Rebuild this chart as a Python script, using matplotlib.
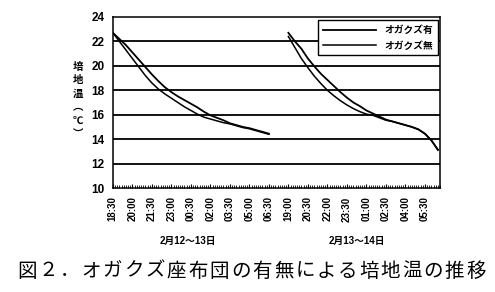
import matplotlib.pyplot as plt
import numpy as np

plt.rcParams['font.family'] = ['Liberation Sans', 'Noto Sans CJK JP', 'DejaVu Sans']

# Data: readings every 30 min, positions on a 10-minute category axis
tick_labels = ["18:30", "20:00", "21:30", "23:00", "00:30", "02:00", "03:30", "05:00", "06:30",
               "19:00", "20:30", "22:00", "23:30", "01:00", "02:30", "04:00", "05:30"]

night1_idx = np.arange(0, 73, 3)
night1_with = [22.7, 22.2, 21.7, 21.1, 20.5, 19.9, 19.3, 18.75, 18.25, 17.85, 17.5, 17.2, 16.9,
               16.6, 16.25, 15.95, 15.75, 15.55, 15.3, 15.15, 15.0, 14.9, 14.75, 14.6, 14.45]
night1_without = [22.7, 22.0, 21.3, 20.6, 19.9, 19.2, 18.6, 18.1, 17.7, 17.35, 17.0, 16.65, 16.35,
                  16.05, 15.8, 15.65, 15.5, 15.35, 15.25, 15.1, 14.95, 14.85, 14.7, 14.55, 14.4]

night2_idx = np.arange(81, 151, 3)
night2_with = [22.7, 22.0, 21.4, 20.6, 19.95, 19.35, 18.85, 18.35, 17.85, 17.4, 17.0, 16.7,
               16.35, 16.1, 15.85, 15.6, 15.45, 15.3, 15.15, 15.0, 14.8, 14.45, 13.9, 13.15]
night2_without = [22.4, 21.5, 20.6, 19.85, 19.15, 18.55, 18.0, 17.55, 17.15, 16.8, 16.5, 16.25,
                  16.05, 15.95, 15.75, 15.55, 15.45, 15.3, 15.15, 15.0, 14.8, 14.45, 13.9, 13.1]

ylabel_chars = ['培', '地', '温', '︵', '℃', '︶']
caption = '図２．オガクズ座布団の有無による培地温の推移'

fig = plt.figure(figsize=(4.95, 2.92), dpi=100)
ax = fig.add_axes([0.228, 0.356, 0.661, 0.586])

for y in range(12, 24, 2):
    ax.axhline(y, color='black', lw=1.3, zorder=1)

ax.plot(night1_idx, night1_with, color='black', lw=1.3, label='オガクズ有', zorder=3)
ax.plot(night1_idx, night1_without, color='black', lw=1.1, label='オガクズ無', zorder=3)
ax.plot(night2_idx, night2_with, color='black', lw=1.3, zorder=3)
ax.plot(night2_idx, night2_without, color='black', lw=1.1, zorder=3)

ax.set_xlim(0, 151)
ax.set_ylim(10, 24)
ax.set_yticks(range(10, 25, 2))
ax.set_yticklabels([str(v) for v in range(10, 25, 2)], fontsize=8.5, fontweight='bold')
ax.tick_params(axis='y', length=0, pad=6)

ax.set_xticks(np.arange(len(tick_labels)) * 9)
ax.set_xticklabels(tick_labels, rotation=90, fontsize=7, fontweight='bold')
ax.set_xticks(np.arange(0, 152), minor=True)
ax.tick_params(axis='x', which='major', direction='in', length=3, pad=6)
ax.tick_params(axis='x', which='minor', direction='in', length=2)

for s in ax.spines.values():
    s.set_linewidth(1.1)

ax.legend(loc='upper right', bbox_to_anchor=(1.008, 1.008), fancybox=False, edgecolor='black',
          framealpha=1, prop={'size': 7, 'weight': 'bold'}, handlelength=5.5,
          borderpad=0.5, labelspacing=0.55, handletextpad=0.8)

# stacked vertical y label
for i, ch in enumerate(ylabel_chars):
    fig.text(78 / 495, 1 - (67 + i * 13.5) / 292, ch, fontsize=7.5, fontweight='bold',
             ha='center', va='center')

fig.text(188 / 495, 1 - 241 / 292, '2月12〜13日', fontsize=7, fontweight='bold',
         ha='center', va='center')
fig.text(357 / 495, 1 - 241 / 292, '2月13〜14日', fontsize=7, fontweight='bold',
         ha='center', va='center')

# letter-spaced caption
step = (476 - 27) / (len(caption) - 1)
for i, ch in enumerate(caption):
    fig.text((27 + i * step) / 495, 1 - 272 / 292, ch, fontsize=14, ha='center', va='center')

fig.savefig('out.png', dpi=100, facecolor='white')
